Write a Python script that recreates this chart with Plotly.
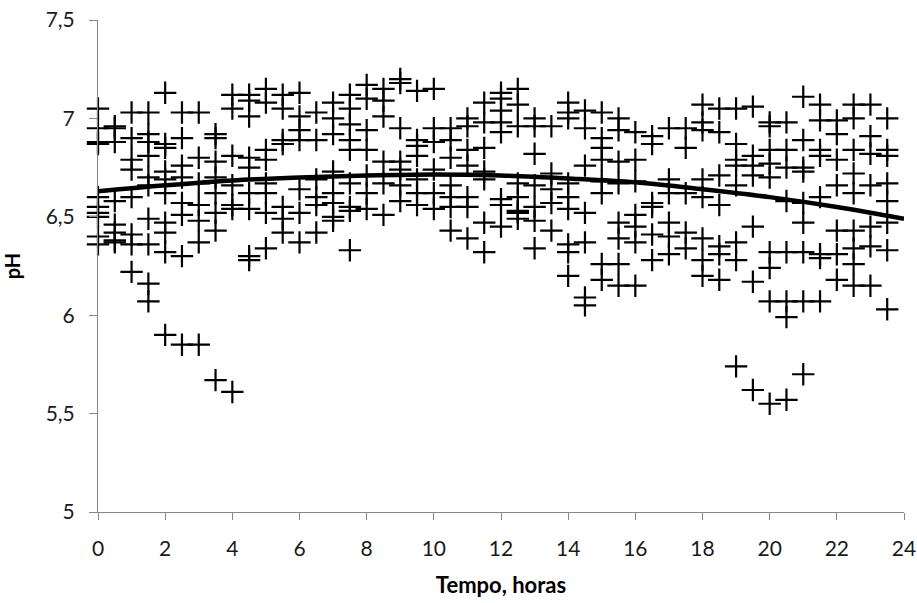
import plotly.graph_objects as go

hours = [i * 0.5 for i in range(48)]
ph_by_hour = [
    [7.05, 6.95, 6.88, 6.87, 6.60, 6.55, 6.52, 6.50, 6.40, 6.36],   # 0
    [6.96, 6.95, 6.88, 6.58, 6.46, 6.42, 6.38, 6.37],               # 0.5
    [7.03, 6.90, 6.79, 6.74, 6.60, 6.41, 6.36, 6.22],               # 1
    [7.03, 6.92, 6.88, 6.81, 6.70, 6.66, 6.49, 6.36, 6.16, 6.07],   # 1.5
    [7.13, 6.87, 6.85, 6.73, 6.69, 6.62, 6.47, 6.42, 6.32, 5.90],   # 2
    [7.03, 6.90, 6.76, 6.70, 6.57, 6.51, 6.30, 5.85],               # 2.5
    [7.03, 6.80, 6.67, 6.56, 6.48, 6.37, 5.85],                     # 3
    [6.92, 6.90, 6.78, 6.70, 6.62, 6.52, 6.43, 5.67],               # 3.5
    [7.12, 7.05, 6.81, 6.66, 6.56, 6.54, 5.61],                     # 4
    [7.12, 7.09, 7.01, 6.80, 6.75, 6.62, 6.54, 6.30, 6.28],         # 4.5
    [7.15, 7.08, 6.84, 6.79, 6.67, 6.62, 6.52, 6.34],               # 5
    [7.12, 7.05, 6.89, 6.87, 6.55, 6.49, 6.42],                     # 5.5
    [7.13, 7.01, 6.94, 6.89, 6.64, 6.52, 6.37],                     # 6
    [7.03, 6.89, 6.69, 6.60, 6.56, 6.42],                           # 6.5
    [7.08, 7.00, 6.92, 6.73, 6.62, 6.57, 6.50, 6.48],               # 7
    [7.12, 7.05, 6.97, 6.89, 6.84, 6.67, 6.55, 6.53, 6.33],         # 7.5
    [7.17, 7.10, 6.94, 6.84, 6.71, 6.62, 6.54],                     # 8
    [7.15, 7.09, 7.01, 6.78, 6.67, 6.51],                           # 8.5
    [7.20, 7.18, 6.95, 6.78, 6.74, 6.66, 6.58],                     # 9
    [7.14, 6.89, 6.86, 6.81, 6.69, 6.62, 6.56],                     # 9.5
    [7.15, 6.95, 6.88, 6.74, 6.62, 6.54],                           # 10
    [6.95, 6.89, 6.80, 6.66, 6.60, 6.55, 6.43],                     # 10.5
    [7.00, 6.96, 6.84, 6.76, 6.60, 6.55, 6.39],                     # 11
    [7.08, 6.98, 6.85, 6.73, 6.69, 6.47, 6.32],                     # 11.5
    [7.13, 7.10, 7.04, 6.98, 6.93, 6.59, 6.56, 6.45],               # 12
    [7.15, 7.07, 6.96, 6.67, 6.60, 6.53, 6.52, 6.49],               # 12.5
    [7.00, 6.96, 6.82, 6.66, 6.55, 6.48, 6.34],                     # 13
    [6.96, 6.72, 6.64, 6.57, 6.43],                                 # 13.5
    [7.08, 7.03, 7.00, 6.67, 6.60, 6.54, 6.36, 6.32, 6.20],         # 14
    [7.04, 6.95, 6.76, 6.52, 6.37, 6.09, 6.05],                     # 14.5
    [7.03, 6.90, 6.85, 6.79, 6.68, 6.62, 6.26, 6.18],               # 15
    [7.00, 6.94, 6.78, 6.67, 6.47, 6.39, 6.26, 6.15],               # 15.5
    [6.93, 6.79, 6.68, 6.51, 6.45, 6.37, 6.15],                     # 16
    [6.91, 6.87, 6.57, 6.55, 6.41, 6.28],                           # 16.5
    [6.95, 6.69, 6.62, 6.47, 6.40, 6.31],                           # 17
    [6.95, 6.85, 6.62, 6.42, 6.34],                                 # 17.5
    [7.07, 6.98, 6.94, 6.69, 6.60, 6.39, 6.28, 6.20],               # 18
    [7.05, 6.93, 6.71, 6.56, 6.35, 6.31, 6.18],                     # 18.5
    [7.05, 6.87, 6.79, 6.76, 6.66, 6.37, 6.28, 5.74],               # 19
    [7.06, 6.81, 6.76, 6.71, 6.45, 6.17, 5.62],                     # 19.5
    [6.98, 6.96, 6.84, 6.77, 6.70, 6.32, 6.24, 6.07, 5.55],         # 20
    [6.98, 6.84, 6.75, 6.58, 6.32, 6.07, 5.99, 5.57],               # 20.5
    [7.11, 6.89, 6.75, 6.73, 6.57, 6.47, 6.32, 6.07, 5.70],         # 21
    [7.07, 6.99, 6.84, 6.81, 6.60, 6.31, 6.29, 6.07],               # 21.5
    [6.99, 6.92, 6.79, 6.66, 6.43, 6.31, 6.18],                     # 22
    [7.07, 7.00, 6.84, 6.72, 6.62, 6.43, 6.34, 6.26, 6.15],         # 22.5
    [7.07, 6.91, 6.82, 6.66, 6.45, 6.35, 6.15],                     # 23
    [7.00, 6.84, 6.81, 6.67, 6.58, 6.47, 6.33, 6.03],               # 23.5
]

trend_x = [0, 2, 4, 6, 8, 10, 12, 14, 16, 18, 20, 22, 24]
trend_y = [6.63, 6.66, 6.685, 6.70, 6.71, 6.715, 6.71, 6.695, 6.675, 6.64, 6.60, 6.55, 6.49]

x_ticks = list(range(0, 25, 2))
y_ticks = [5, 5.5, 6, 6.5, 7, 7.5]

xs, ys = [], []
for h, vals in zip(hours, ph_by_hour):
    for v in vals:
        xs.append(h)
        ys.append(v)

font_family = "Lato, Open Sans, sans-serif"

fig = go.Figure()
fig.add_trace(go.Scatter(
    x=xs, y=ys, mode="markers",
    marker=dict(symbol="cross-thin", size=16, line=dict(color="black", width=2.2), color="black"),
    cliponaxis=False, showlegend=False,
))
fig.add_trace(go.Scatter(
    x=trend_x, y=trend_y, mode="lines", line=dict(color="black", width=4.5, shape="spline"),
    showlegend=False,
))

fig.update_layout(
    width=917, height=603,
    margin=dict(l=98, r=13, t=20, b=91),
    paper_bgcolor="white", plot_bgcolor="white",
    separators=", ",
    font=dict(family=font_family, color="#1a1a1a", size=21),
    xaxis=dict(
        range=[0, 24], tickvals=x_ticks, showgrid=False, zeroline=False,
        showline=True, linecolor="#868686", linewidth=1,
        ticks="outside", ticklen=7, tickcolor="#868686",
        ticklabelstandoff=11, automargin=False,
        title=dict(text="<b>Tempo, horas</b>", font=dict(size=22, color="black"), standoff=18),
    ),
    yaxis=dict(
        range=[5, 7.5], tickvals=y_ticks, showgrid=False, zeroline=False,
        showline=True, linecolor="#868686", linewidth=1,
        ticks="outside", ticklen=8, tickcolor="#868686",
        ticklabelstandoff=10, automargin=False,
        title=dict(text="<b>pH</b>", font=dict(size=20, color="black"), standoff=20),
    ),
)

fig.write_html("out.html")
